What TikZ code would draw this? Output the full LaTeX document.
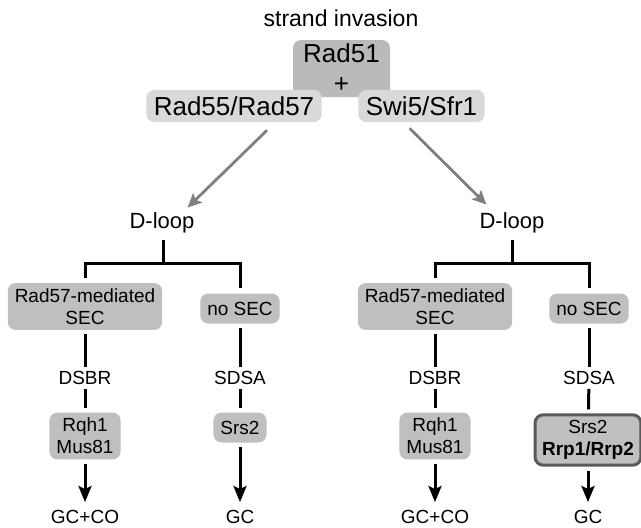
\documentclass[tikz,border=0pt]{standalone}
\usepackage{fontspec}
\setmainfont{Liberation Sans}
\usetikzlibrary{arrows.meta,positioning}

\begin{document}
\begin{tikzpicture}[
    x=1pt, y=-1pt,
    big/.style={font=\fontsize{26}{30}\selectfont, rounded corners=8pt, align=center},
    lbl/.style={font=\fontsize{19}{22}\selectfont, inner sep=0pt, align=center},
    loop/.style={font=\fontsize{22}{26}\selectfont, inner sep=0pt},
    box/.style={lbl, rounded corners=8pt, fill=black!25, inner xsep=7pt, inner ysep=5.5pt, minimum height=30pt},
    tree/.style={line width=3pt, shorten <=4pt, shorten >=4pt},
    arr/.style={line width=3pt, -{Stealth[length=16pt,width=13pt,inset=3pt]}, shorten <=4pt, shorten >=8pt},
    garr/.style={line width=2.8pt, draw=black!50, -{Stealth[length=14pt,width=13pt,inset=3pt]}}
]
\useasboundingbox (0,0) rectangle (641,528);

% strand invasion
\node[font=\fontsize{23}{27}\selectfont, inner sep=0pt] (inv) at (341,18.5) {strand invasion};
\node[big, fill=black!27, minimum width=97pt, minimum height=57pt] (rad51) at (341.5,68.5) {Rad51\\+};
\node[big, fill=black!15, inner xsep=7.5pt, inner ysep=6.5pt] (rad55) at (234,106) {Rad55/Rad57};
\node[big, fill=black!15, inner xsep=7.5pt, inner ysep=6.5pt] (swi5) at (421.5,106) {Swi5/Sfr1};

% left branch
\node[loop] (dl1) at (162,223) {D-loop};
\coordinate (j1) at (163,263);
\node[box] (sec1) at (85,306.5) {Rad57-mediated\\SEC};
\node[box] (nosec1) at (240,308.5) {no SEC};
\node[lbl] (dsbr1) at (85,378) {DSBR};
\node[lbl] (sdsa1) at (240,378) {SDSA};
\node[box] (rqh1) at (85,436) {Rqh1\\Mus81};
\node[box] (srs1) at (240,427.5) {Srs2};
\node[lbl] (gcco1) at (85,517) {GC+CO};
\node[lbl] (gc1) at (240,517) {GC};

% right branch
\node[loop] (dl2) at (512,223) {D-loop};
\coordinate (j2) at (512,263);
\node[box] (sec2) at (435,306.5) {Rad57-mediated\\SEC};
\node[box] (nosec2) at (589,308.5) {no SEC};
\node[lbl] (dsbr2) at (435,378) {DSBR};
\node[lbl] (sdsa2) at (589,378) {SDSA};
\node[box] (rqh2) at (435,436) {Rqh1\\Mus81};
\node[box, draw=black!65, line width=3pt] (srs2) at (588,440) {Srs2\\\textbf{Rrp1/Rrp2}};
\node[lbl] (gcco2) at (435,517) {GC+CO};
\node[lbl] (gc2) at (588,517) {GC};

% invasion arrows
\draw[garr] ([xshift=33pt,yshift=-8pt]rad55.south) -- ([xshift=-7pt,yshift=5pt]dl1.north east);
\draw[garr] ([xshift=-12pt,yshift=-6pt]swi5.south) -- ([xshift=7pt,yshift=8pt]dl2.north west);

% left tree
\draw[tree, shorten <=7pt, shorten >=0pt] (dl1.south -| j1) -- (j1);
\draw[tree, shorten <=5pt, shorten >=5pt] (sec1) |- (j1) -| (nosec1);
\draw[tree] (sec1) -- (dsbr1);
\draw[tree] (dsbr1) -- (rqh1);
\draw[arr] (rqh1) -- (gcco1);
\draw[tree] (nosec1) -- (sdsa1);
\draw[tree] (sdsa1) -- (srs1);
\draw[arr] (srs1) -- (gc1);

% right tree
\draw[tree, shorten <=7pt, shorten >=0pt] (dl2.south -| j2) -- (j2);
\draw[tree, shorten <=5pt, shorten >=5pt] (sec2) |- (j2) -| (nosec2);
\draw[tree] (sec2) -- (dsbr2);
\draw[tree] (dsbr2) -- (rqh2);
\draw[arr] (rqh2) -- (gcco2);
\draw[tree] (nosec2) -- (sdsa2);
\draw[tree] (sdsa2) -- (srs2);
\draw[arr] (srs2) -- (gc2);
\end{tikzpicture}
\end{document}
